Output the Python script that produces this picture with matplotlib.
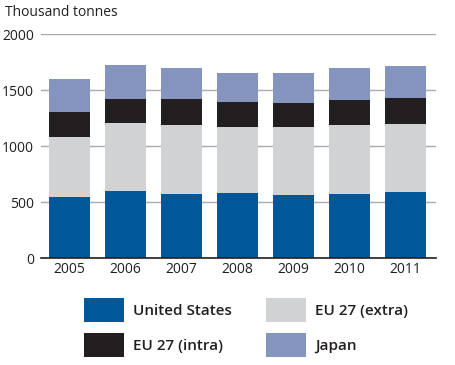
import matplotlib.pyplot as plt
import numpy as np

plt.rcParams['font.family'] = ['Open Sans', 'DejaVu Sans']

years = ['2005', '2006', '2007', '2008', '2009', '2010', '2011']
united_states = [548, 601, 574, 583, 565, 574, 592]
eu_extra = [535, 607, 616, 590, 608, 616, 607]
eu_intra = [224, 215, 233, 223, 214, 224, 233]
japan = [294, 303, 276, 259, 268, 285, 285]

series = [
    ('United States', united_states, '#00579a'),
    ('EU 27 (extra)', eu_extra, '#d1d2d4'),
    ('EU 27 (intra)', eu_intra, '#231f20'),
    ('Japan', japan, '#8595c0'),
]

fig = plt.figure(figsize=(4.55, 3.65), dpi=100)
ax = fig.add_axes([0.090, 0.2923, 0.868, 0.6137])

x = np.arange(len(years))
bottom = np.zeros(len(years))
handles = {}
for name, vals, col in series:
    b = ax.bar(x, vals, 0.73, bottom=bottom, color=col, label=name, zorder=3)
    handles[name] = b
    bottom += np.array(vals)

ax.set_ylim(0, 2000)
ax.set_xlim(-0.51, 6.545)
ax.set_yticks([0, 500, 1000, 1500, 2000])
ax.set_xticks(x)
ax.set_xticklabels(years)
ax.yaxis.grid(True, color='#a7a9ac', lw=1, zorder=0)
for s in ['top', 'right', 'left']:
    ax.spines[s].set_visible(False)
ax.spines['bottom'].set_color('#231f20')
ax.spines['bottom'].set_linewidth(1.2)
ax.spines['bottom'].set_zorder(4)
ax.tick_params(length=0, labelsize=10, colors='#231f20')
ax.tick_params(axis='y', pad=5)
ax.tick_params(axis='x', pad=3)

fig.text(0.011, 0.965, 'Thousand tonnes', fontsize=10, color='#231f20', va='center')

order = ['United States', 'EU 27 (intra)', 'EU 27 (extra)', 'Japan']
leg = fig.legend([handles[n] for n in order], order, ncol=2,
                 loc='upper left', bbox_to_anchor=(0.1846, 0.1836),
                 frameon=False,
                 prop={'weight': 'semibold', 'size': 11},
                 handlelength=2.61, handleheight=2.04,
                 handletextpad=0.59, columnspacing=2.25, labelspacing=0.72,
                 borderpad=0, borderaxespad=0)
for t in leg.get_texts():
    t.set_color('#231f20')

fig.savefig('out.png', dpi=100)
